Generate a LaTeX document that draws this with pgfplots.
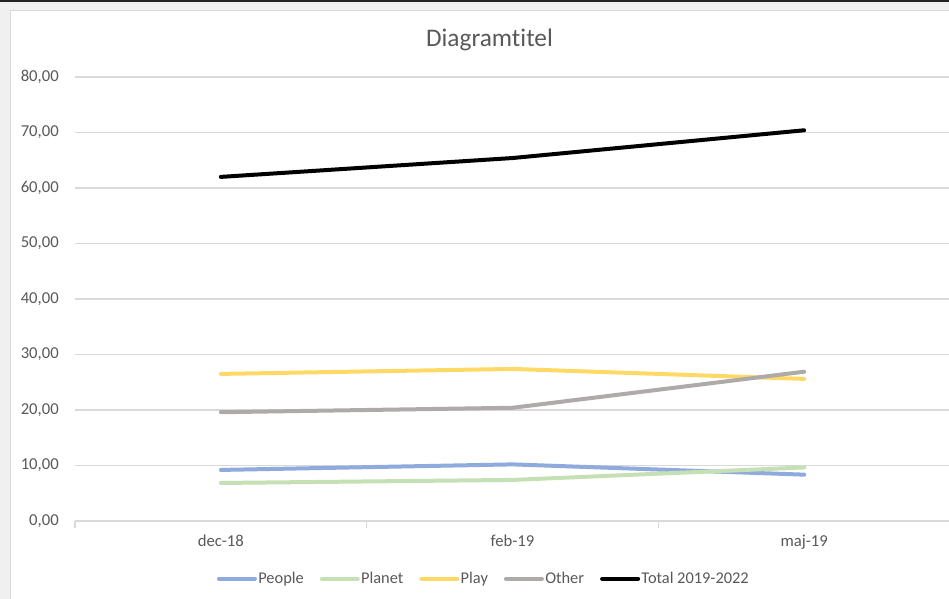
\documentclass[border=0pt]{standalone}
\usepackage{pgfplots}
\pgfplotsset{compat=1.18}
\usepackage{fontspec}
\setmainfont{Carlito}[Ligatures=NoCommon]
\definecolor{txt}{HTML}{595959}
\definecolor{grd}{HTML}{D9D9D9}
\definecolor{cpeople}{HTML}{8FAADC}
\definecolor{cplanet}{HTML}{C5E0B4}
\definecolor{cplay}{HTML}{FFD966}
\definecolor{cother}{HTML}{AEAAAA}
\definecolor{bgg}{HTML}{F0F0F0}
\definecolor{topbar}{HTML}{222222}
\begin{document}
\begin{tikzpicture}
\useasboundingbox (0,0) rectangle (711.75pt,449.25pt);
\clip (0,0) rectangle (711.75pt,449.25pt);
\fill[white] (0,0) rectangle (711.75pt,449.25pt);
\fill[bgg] (0,441.75pt) rectangle (711.75pt,449.25pt);
\fill[bgg] (0,0) rectangle (7.5pt,449.25pt);
\fill[topbar] (0,447.75pt) rectangle (711.75pt,449.25pt);
\draw[grd, line width=1pt] (8pt,0) -- (8pt,441.3pt) -- (711.75pt,441.3pt);
\node[font=\fontsize{19}{22}\selectfont, text=txt] at (367.1pt,419.5pt) {Diagramtitel};
\begin{axis}[
  at={(56.25pt,58.5pt)}, anchor=south west,
  width=656.25pt, height=333pt, scale only axis,
  xmin=-0.5, xmax=2.5, ymin=0, ymax=80,
  ytick={0,10,...,80},
  xtick={0,1,2}, xticklabels={dec-18,feb-19,maj-19},
  separate axis lines,
  axis x line*=bottom, axis y line*=left,
  x axis line style={-, grd, line width=1.2pt},
  y axis line style={draw=none},
  ymajorgrids, major grid style={grd, line width=0.9pt},
  major tick length=0pt,
  ytick style={draw=none},
  xtick style={draw=none},
  extra x ticks={-0.5,0.5,1.5,2.5},
  extra x tick labels={},
  extra x tick style={major tick length=5pt, tick align=outside, xtick style={draw=grd, line width=0.9pt}, grid=none},
  tick label style={font=\fontsize{12.5}{14}\selectfont, text=txt},
  yticklabel style={inner sep=0pt, anchor=east, xshift=-12pt},
  xticklabel style={inner sep=0pt, anchor=north, yshift=-10pt},
  /pgf/number format/.cd, fixed, fixed zerofill, precision=2, use comma, assume math mode=true,
  /pgfplots/.cd,
  every axis plot/.append style={line width=3pt, line join=round, line cap=round},
  legend columns=-1,
  legend style={draw=none, fill=none, at={(0.4669,-0.13)}, anchor=center,
    font=\fontsize{12.3}{14}\selectfont, text=txt,
    /tikz/every even column/.append style={column sep=11pt},
    nodes={inner xsep=1pt, inner ysep=1pt}},
  legend image code/.code={\draw[#1, line cap=round] (0pt,0pt) -- (27pt,0pt);},
]
\addplot[cpeople] coordinates {(0,9.2) (1,10.2) (2,8.35)};
\addlegendentry{People}
\addplot[cplanet] coordinates {(0,6.85) (1,7.4) (2,9.65)};
\addlegendentry{Planet}
\addplot[cplay] coordinates {(0,26.5) (1,27.4) (2,25.6)};
\addlegendentry{Play}
\addplot[cother] coordinates {(0,19.6) (1,20.4) (2,26.9)};
\addlegendentry{Other}
\addplot[black] coordinates {(0,62.0) (1,65.4) (2,70.4)};
\addlegendentry{Total 2019-2022}
\end{axis}
\end{tikzpicture}
\end{document}
